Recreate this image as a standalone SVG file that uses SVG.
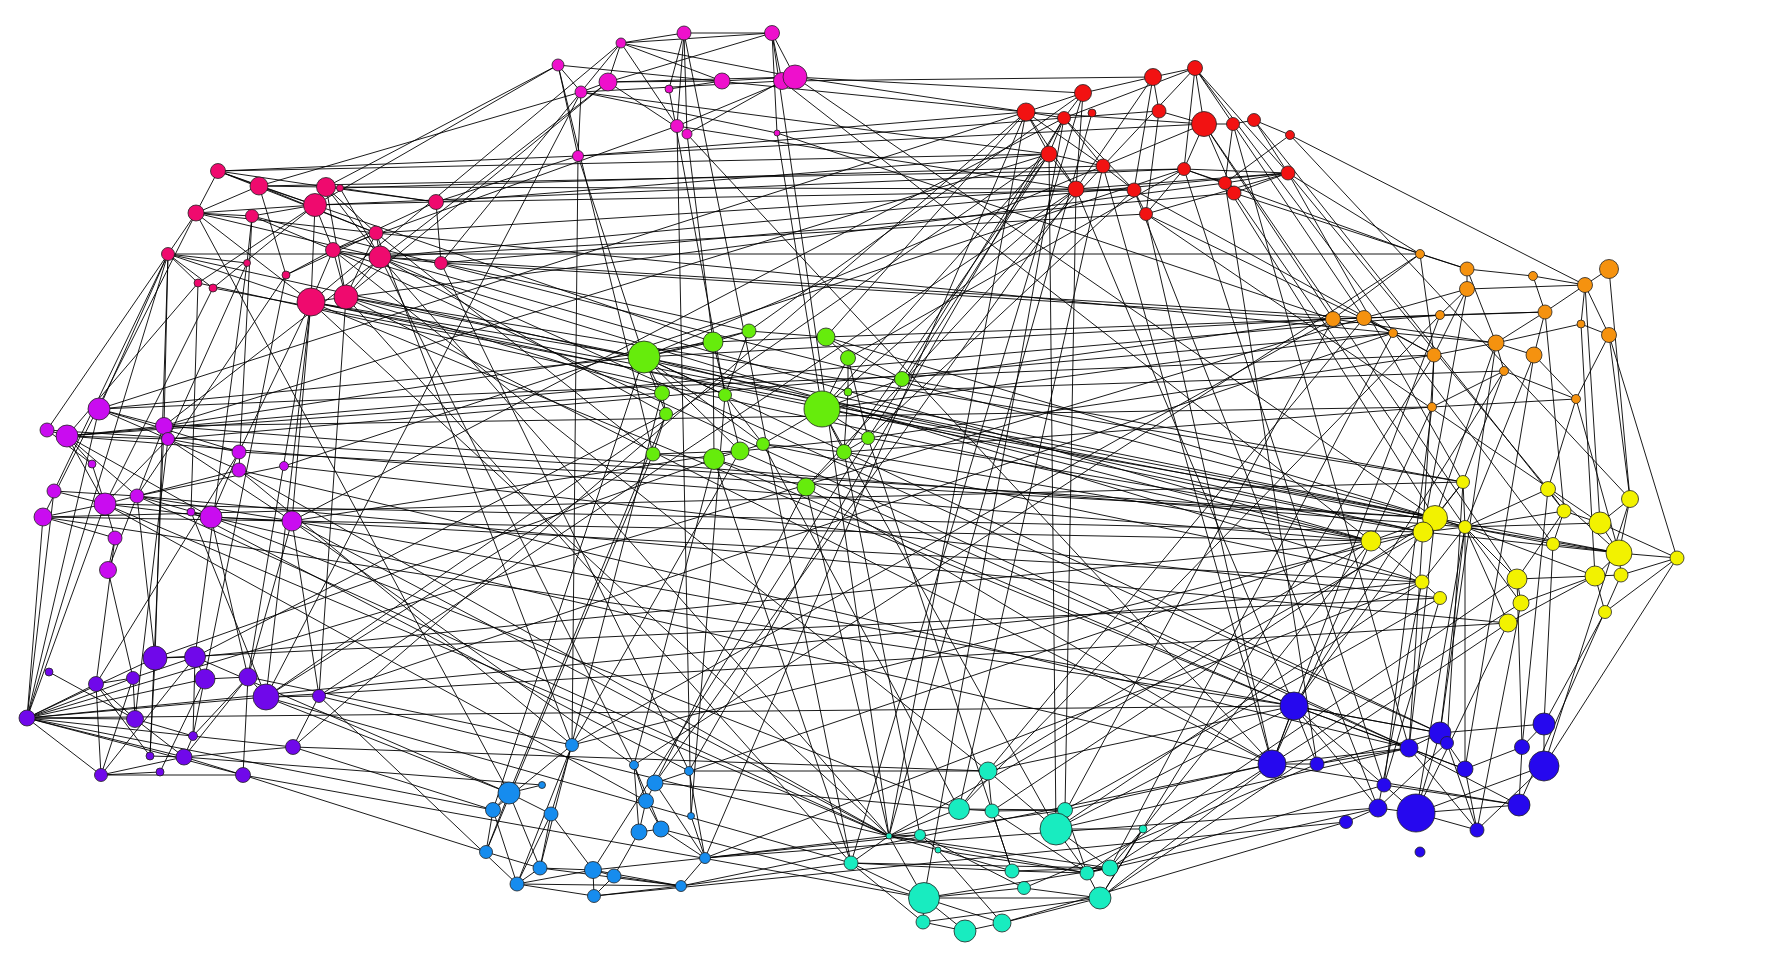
<svg xmlns="http://www.w3.org/2000/svg" width="1769" height="957" viewBox="0 0 1769 957">
<style>
.e path{fill:none;stroke:#000;stroke-width:0.9}
circle{stroke:#222;stroke-width:0.8}
.m{fill:#ee10cc}.r{fill:#f21212}.p{fill:#ef0a6e}.v{fill:#c90cf0}.u{fill:#7008ea}.s{fill:#168cee}.t{fill:#18ecc0}.b{fill:#2608ee}.y{fill:#f2f200}.o{fill:#f5920f}.g{fill:#66ec0c}
</style>
<rect width="1769" height="957" fill="#fff"/>
<g id="connectors" class="e">
<path d="M558 65L581 92M558 65L578 156M581 92L578 156M581 92L608 82M581 92L782 81M621 43L684 33M621 43L772 33M621 43L608 82M621 43L722 81M621 43L677 126M621 43L795 77M684 33L772 33M684 33L677 126M684 33L687 134M684 33L669 89M772 33L795 77M772 33L777 133M772 33L782 81M772 33L608 82M608 82L722 81M608 82L795 77M608 82L687 134M669 89L722 81M722 81L795 77M677 126L795 77M687 134L782 81M581 92L777 133"/>
<path d="M1026 112L1083 93M1026 112L1064 118M1026 112L1049 154M1026 112L1103 166M1026 112L1076 189M1083 93L1064 118M1083 93L1153 77M1083 93L1076 189M1064 118L1049 154M1064 118L1103 166M1064 118L1134 190M1064 118L1159 111M1153 77L1195 68M1153 77L1159 111M1153 77L1134 190M1153 77L1076 189M1159 111L1204 124M1159 111L1146 214M1195 68L1204 124M1195 68L1233 124M1195 68L1184 169M1195 68L1288 173M1195 68L1103 166M1195 68L1064 118M1204 124L1233 124M1204 124L1184 169M1204 124L1234 193M1204 124L1026 112M1233 124L1254 120M1233 124L1225 183M1254 120L1290 135M1254 120L1288 173M1290 135L1225 183M1184 169L1225 183M1184 169L1288 173M1225 183L1288 173M1234 193L1288 173M1049 154L1076 189M1049 154L1103 166M1103 166L1134 190M1076 189L1134 190M1134 190L1146 214M1146 214L1288 173M1146 214L1184 169M1076 189L1288 173"/>
<path d="M218 171L259 186M218 171L326 187M218 171L196 213M218 171L315 205M218 171L376 233M259 186L315 205M259 186L196 213M259 186L326 187M259 186L376 233M259 186L286 275M326 187L315 205M326 187L436 202M326 187L376 233M326 187L380 257M340 188L436 202M340 188L380 257M315 205L436 202M196 213L315 205M196 213L252 216M196 213L380 257M196 213L376 233M196 213L311 302M252 216L315 205M252 216L333 250M315 205L311 302M315 205L333 250M315 205L198 283M315 205L213 288M333 250L380 257M376 233L380 257M436 202L333 250M436 202L441 263M168 254L247 263M168 254L311 302M168 254L198 283M168 254L213 288M168 254L196 213M286 275L333 250M286 275L376 233M333 250L311 302M333 250L346 297M380 257L441 263M346 297L376 233M346 297L380 257M311 302L346 297M247 263L252 216M326 187L346 297"/>
<path d="M99 409L164 426M99 409L168 439M47 430L67 436M67 436L164 426M67 436L168 439M67 436L92 464M67 436L105 504M67 436L211 517M67 436L137 496M164 426L168 439M164 426L137 496M168 439L239 452M168 439L239 470M168 439L292 521M168 439L105 504M239 470L137 496M284 466L137 496M239 452L211 517M92 464L105 504M54 491L105 504M54 491L137 496M105 504L137 496M105 504L115 538M105 504L211 517M137 496L211 517M137 496L292 521M43 517L105 504M43 517L292 521M43 517L115 538M191 512L211 517M211 517L292 521M115 538L108 570M108 570L137 496M47 430L92 464M99 409L239 452"/>
<path d="M49 672L135 719M96 684L133 678M96 684L27 718M96 684L135 719M96 684L150 756M96 684L101 775M133 678L195 657M133 678L27 718M133 678L135 719M155 658L27 718M155 658L150 756M155 658L195 657M195 657L205 679M195 657L193 736M195 657L101 775M205 679L248 677M205 679L27 718M248 677L266 697M248 677L243 775M248 677L184 757M266 697L319 696M266 697L27 718M319 696L293 747M27 718L135 719M27 718L184 757M27 718L293 747M27 718L101 775M27 718L243 775M135 719L193 736M135 719L184 757M193 736L184 757M150 756L184 757M184 757L243 775M184 757L293 747M101 775L243 775M101 775L160 772M160 772L205 679M133 678L101 775M248 677L193 736M101 775L184 757"/>
<path d="M572 745L493 810M572 745L551 814M572 745L517 884M509 793L493 810M509 793L551 814M509 793L486 852M509 793L540 868M542 785L509 793M493 810L517 884M493 810L486 852M551 814L540 868M551 814L517 884M551 814L593 870M486 852L540 868M540 868L517 884M540 868L593 870M517 884L593 870M517 884L594 896M593 870L594 896M593 870L614 876M594 896L614 876M517 884L681 886M634 765L646 801M634 765L639 832M634 765L661 829M655 783L646 801M655 783L705 858M646 801L639 832M646 801L661 829M689 771L705 858M691 816L705 858M639 832L661 829M661 829L705 858M705 858L681 886M614 876L681 886M639 832L614 876M593 870L681 886M594 896L681 886M540 868L681 886"/>
<path d="M988 771L992 811M988 771L959 809M988 771L1056 829M959 809L992 811M959 809L889 836M959 809L1065 810M992 811L1065 810M992 811L1087 873M1065 810L1056 829M1056 829L1143 829M1056 829L1110 868M1056 829L1087 873M1143 829L1110 868M1143 829L1100 898M889 836L920 835M889 836L851 863M889 836L924 898M889 836L1012 871M889 836L1087 873M889 836L1110 868M889 836L1065 810M920 835L938 850M920 835L1024 888M938 850L1002 923M938 850L1087 873M851 863L1012 871M851 863L924 898M851 863L923 922M851 863L1110 868M1012 871L1110 868M1012 871L1087 873M1087 873L1110 868M1024 888L924 898M1024 888L1100 898M924 898L923 922M924 898L965 931M924 898L1002 923M924 898L1100 898M1100 898L1002 923M1100 898L1087 873M923 922L965 931M965 931L1002 923M1065 810L1087 873M992 811L1012 871M923 922L1100 898M924 898L1110 868"/>
<path d="M1294 706L1272 764M1294 706L1440 733M1294 706L1409 748M1294 706L1384 785M1294 706L1378 808M1294 706L1465 769M1294 706L1317 764M1272 764L1317 764M1272 764L1409 748M1317 764L1409 748M1317 764L1440 733M1272 764L1519 805M1440 733L1447 743M1440 733L1544 724M1440 733L1416 813M1440 733L1409 748M1447 743L1465 769M1447 743L1477 830M1409 748L1465 769M1409 748L1519 805M1544 724L1522 747M1544 724L1544 766M1522 747L1465 769M1522 747L1519 805M1544 766L1477 830M1465 769L1477 830M1384 785L1416 813M1384 785L1519 805M1378 808L1416 813M1416 813L1519 805M1416 813L1477 830M1378 808L1346 822M1447 743L1378 808M1416 813L1544 766M1409 748L1477 830"/>
<path d="M1463 482L1435 518M1463 482L1465 527M1463 482L1423 532M1548 489L1564 511M1548 489L1465 527M1630 499L1619 553M1630 499L1600 523M1435 518L1465 527M1435 518L1423 532M1435 518L1371 541M1465 527L1423 532M1465 527L1564 511M1465 527L1600 523M1465 527L1553 544M1465 527L1619 553M1465 527L1517 579M1465 527L1422 582M1465 527L1521 603M1465 527L1508 623M1465 527L1595 576M1564 511L1553 544M1564 511L1517 579M1564 511L1600 523M1600 523L1619 553M1600 523L1677 558M1619 553L1677 558M1619 553L1595 576M1619 553L1621 575M1553 544L1619 553M1517 579L1595 576M1595 576L1621 575M1595 576L1521 603M1595 576L1508 623M1595 576L1605 612M1621 575L1677 558M1677 558L1605 612M1422 582L1440 598M1517 579L1521 603M1371 541L1423 532M1371 541L1422 582M1423 532L1619 553M1435 518L1619 553M1548 489L1619 553"/>
<path d="M1420 254L1467 269M1420 254L1333 319M1420 254L1434 355M1467 269L1533 276M1467 269L1467 289M1467 269L1496 343M1533 276L1585 285M1533 276L1545 312M1609 269L1585 285M1585 285L1467 289M1585 285L1545 312M1585 285L1581 324M1585 285L1609 335M1467 289L1364 318M1467 289L1434 355M1467 289L1440 315M1333 319L1364 318M1364 318L1440 315M1364 318L1393 333M1364 318L1545 312M1440 315L1545 312M1545 312L1496 343M1581 324L1609 335M1581 324L1496 343M1609 335L1576 399M1393 333L1496 343M1496 343L1434 355M1496 343L1534 355M1496 343L1504 371M1434 355L1432 407M1534 355L1545 312M1534 355L1576 399M1504 371L1432 407M1504 371L1576 399M1393 333L1434 355M1333 319L1496 343M1432 407L1576 399"/>
<path d="M644 357L713 342M644 357L749 331M644 357L662 393M644 357L666 414M644 357L740 451M644 357L725 395M713 342L749 331M713 342L826 337M713 342L740 451M713 342L714 459M749 331L826 337M749 331L725 395M826 337L848 358M826 337L902 379M848 358L848 392M848 358L822 409M848 358L868 438M662 393L666 414M725 395L763 444M848 392L844 452M822 409L844 452M822 409L868 438M822 409L763 444M666 414L653 454M868 438L740 451M763 444L740 451M740 451L714 459M653 454L714 459M714 459L806 487M844 452L806 487M763 444L844 452M868 438L844 452M644 357L763 444M653 454L740 451M902 379L822 409"/>
<path d="M218 171L578 156M326 187L558 65M436 202L578 156M259 186L581 92M346 297L608 82M311 302L621 43M333 250L677 126M315 205L558 65M436 202L1049 154M436 202L1134 190M326 187L1076 189M315 205L1184 169M380 257L1146 214M441 263L1234 193M346 297L1225 183M376 233L1076 189M218 171L1049 154M340 188L1103 166M259 186L1184 169M380 257L1288 173M168 254L1420 254M441 263L1333 319M380 257L1364 318M376 233L1393 333M311 302L1435 518M311 302L1423 532M346 297L1435 518M346 297L1463 482M380 257L1371 541M333 250L1422 582M168 254L1423 532M198 283L1371 541M252 216L1435 518M213 288L1465 527"/>
<path d="M168 254L164 426M168 254L47 430M168 254L99 409M198 283L67 436M213 288L105 504M311 302L292 521M247 263L168 439M252 216L239 470M311 302L239 452M286 275L137 496M196 213L43 517M168 254L54 491M198 283L191 512M311 302L266 697M346 297L319 696M311 302L248 677M168 254L155 658M168 254L27 718M247 263L195 657M286 275L193 736M311 302L644 357M346 297L662 393M380 257L666 414M315 205L713 342M441 263L749 331M376 233L653 454M311 302L1294 706M346 297L1272 764M380 257L1440 733M333 250L1409 748M311 302L889 836M346 297L851 863M333 250L988 771M380 257L889 836M376 233L572 745M380 257L634 765M196 213L509 793M441 263L689 771"/>
<path d="M795 77L1083 93M795 77L1026 112M777 133L1026 112M578 156L1064 118M581 92L1049 154M782 81L1153 77M677 126L1076 189M578 156L1204 124M558 65L1026 112M578 156L644 357M687 134L713 342M777 133L822 409M669 89L725 395M558 65L653 454M677 126L691 816M578 156L572 745M684 33L851 863M772 33L889 836M777 133L1333 319M795 77L1435 518M608 82L164 426M581 92L266 697M687 134L1272 764M782 81L1371 541M621 43L441 263"/>
<path d="M1026 112L826 337M1064 118L902 379M1049 154L822 409M1076 189L822 409M1049 154L844 452M1204 124L644 357M1134 190L868 438M1184 169L848 358M1103 166L806 487M1083 93L749 331M1290 135L1585 285M1288 173L1420 254M1184 169L1420 254M1204 124L1333 319M1234 193L1467 269M1146 214L1393 333M1233 124L1364 318M1134 190L1434 355M1288 173L1463 482M1288 173L1548 489M1234 193L1465 527M1225 183L1435 518M1204 124L1517 579M1146 214L1600 523M1254 120L1564 511M1195 68L1553 544M1290 135L1630 499M1076 189L1294 706M1146 214L1272 764M1225 183L1317 764M1103 166L1272 764M1233 124L1409 748M1184 169L1384 785M1134 190L1378 808M1026 112L889 836M1049 154L1056 829M1083 93L851 863M1103 166L959 809M1092 113L889 836M1076 189L1065 810M1064 118L924 898M1064 118L689 771M1026 112L705 858M1076 189L655 783M1049 154L593 870M1049 154L266 697M1026 112L293 747M1064 118L292 521M1184 169L284 466M1076 189L319 696"/>
<path d="M1333 319L902 379M1393 333L822 409M1434 355L868 438M1432 407L844 452M1364 318L826 337M1333 319L644 357M1504 371L848 392M1432 407L164 426M1434 355L99 409M1393 333L168 439M1440 315L67 436M1609 269L1630 499M1609 335L1630 499M1534 355L1465 527M1576 399L1619 553M1504 371L1463 482M1432 407L1371 541M1496 343L1435 518M1609 335L1677 558M1585 285L1600 523M1545 312L1564 511M1576 399L1548 489M1581 324L1595 576M1467 289L1423 532M1496 343L1440 733M1504 371L1294 706M1440 315L1272 764M1434 355L1409 748M1432 407L1384 785M1534 355L1465 769M1333 319L1056 829M1393 333L1110 868M1364 318L988 771M1434 355L1100 898M1440 315L959 809M1333 319L572 745M1420 254L634 765M1364 318L27 718M1393 333L319 696"/>
<path d="M822 409L1435 518M868 438L1423 532M844 452L1371 541M763 444L1422 582M902 379L1463 482M826 337L1465 527M644 357L1371 541M67 436L1371 541M239 452L1435 518M105 504L1423 532M43 517L1463 482M211 517L1422 582M292 521L1371 541M164 426L1465 527M47 430L1435 518M284 466L1440 598M137 496L1508 623M27 718L1422 582M155 658L1440 598M266 697L1508 623M195 657L1371 541"/>
<path d="M1435 518L1409 748M1465 527L1440 733M1465 527L1416 813M1465 527L1465 769M1423 532L1294 706M1371 541L1272 764M1517 579L1522 747M1440 598L1384 785M1422 582L1378 808M1521 603L1477 830M1605 612L1544 724M1508 623L1416 813M1677 558L1544 766M1621 575L1519 805M1553 544L1544 724M1463 482L1447 743M1548 489L1522 747M1630 499L1544 766M1422 582L1056 829M1440 598L1065 810M1508 623L1100 898M1371 541L988 771M1521 603L1110 868M1371 541L1143 829M1517 579L1087 873M1435 518L992 811M1423 532L889 836M1371 541L655 783M1422 582L705 858M1423 532L572 745"/>
<path d="M1294 706L1056 829M1272 764L1065 810M1272 764L1100 898M1378 808L1110 868M1346 822L1002 923M1384 785L1087 873M1409 748L1056 829M1294 706L988 771M1317 764L1024 888M1272 764L681 886M1378 808L705 858M1346 822L594 896M43 517L1294 706M27 718L1294 706M292 521L1440 733M211 517L1272 764M239 470L1409 748M1294 706L714 459M1440 733L644 357M1409 748L740 451M1272 764L806 487"/>
<path d="M644 357L493 810M666 414L509 793M653 454L486 852M714 459L634 765M806 487L655 783M740 451L572 745M662 393L540 868M725 395L691 816M806 487L889 836M822 409L1056 829M844 452L920 835M714 459L851 863M763 444L959 809M868 438L1012 871M644 357L99 409M662 393L67 436M653 454L266 697M666 414L195 657M740 451L292 521M714 459L155 658M713 342L164 426"/>
<path d="M509 793L266 697M493 810L293 747M486 852L243 775M509 793L195 657M493 810L27 718M572 745L248 677M542 785L184 757M517 884L319 696M634 765L292 521M572 745L239 470M646 801L105 504M689 771L191 512M705 858L889 836M681 886L851 863M655 783L959 809M593 870L920 835M661 829L924 898M689 771L988 771M889 836L292 521M889 836L105 504M889 836L319 696M851 863L266 697M889 836L239 470M959 809L211 517M988 771L293 747M924 898L243 775M889 836L137 496"/>
<path d="M43 517L27 718M115 538L96 684M108 570L133 678M137 496L155 658M105 504L27 718M191 512L266 697M211 517L248 677M292 521L248 677M292 521L319 696M239 452L96 684M54 491L27 718M99 409L27 718M168 439L135 719M164 426L150 756M99 409L1026 112M164 426L1049 154"/>
</g>
<g id="nodes">
<g id="m1"><circle class="m" cx="558" cy="65" r="6"/></g>
<g id="m2"><circle class="m" cx="581" cy="92" r="6"/></g>
<g id="m3"><circle class="m" cx="578" cy="156" r="5.5"/></g>
<g id="m4"><circle class="m" cx="621" cy="43" r="5"/></g>
<g id="m5"><circle class="m" cx="684" cy="33" r="7"/></g>
<g id="m6"><circle class="m" cx="772" cy="33" r="7.5"/></g>
<g id="m7"><circle class="m" cx="608" cy="82" r="9"/></g>
<g id="m8"><circle class="m" cx="669" cy="89" r="4"/></g>
<g id="m9"><circle class="m" cx="722" cy="81" r="8"/></g>
<g id="m10"><circle class="m" cx="782" cy="81" r="8.5"/></g>
<g id="m11"><circle class="m" cx="795" cy="77" r="12"/></g>
<g id="m12"><circle class="m" cx="677" cy="126" r="6.5"/></g>
<g id="m13"><circle class="m" cx="687" cy="134" r="5"/></g>
<g id="m14"><circle class="m" cx="777" cy="133" r="3"/></g>
<g id="r1"><circle class="r" cx="1026" cy="112" r="9"/></g>
<g id="r2"><circle class="r" cx="1083" cy="93" r="8.5"/></g>
<g id="r3"><circle class="r" cx="1064" cy="118" r="6.5"/></g>
<g id="r4"><circle class="r" cx="1092" cy="113" r="4"/></g>
<g id="r5"><circle class="r" cx="1153" cy="77" r="8.5"/></g>
<g id="r6"><circle class="r" cx="1159" cy="111" r="7"/></g>
<g id="r7"><circle class="r" cx="1049" cy="154" r="8"/></g>
<g id="r8"><circle class="r" cx="1103" cy="166" r="7"/></g>
<g id="r9"><circle class="r" cx="1076" cy="189" r="8"/></g>
<g id="r10"><circle class="r" cx="1134" cy="190" r="7"/></g>
<g id="r11"><circle class="r" cx="1146" cy="214" r="6.5"/></g>
<g id="r12"><circle class="r" cx="1195" cy="68" r="7.5"/></g>
<g id="r13"><circle class="r" cx="1204" cy="124" r="12.5"/></g>
<g id="r14"><circle class="r" cx="1233" cy="124" r="6.5"/></g>
<g id="r15"><circle class="r" cx="1254" cy="120" r="6.5"/></g>
<g id="r16"><circle class="r" cx="1290" cy="135" r="4.5"/></g>
<g id="r17"><circle class="r" cx="1184" cy="169" r="6.5"/></g>
<g id="r18"><circle class="r" cx="1225" cy="183" r="6.5"/></g>
<g id="r19"><circle class="r" cx="1234" cy="193" r="7"/></g>
<g id="r20"><circle class="r" cx="1288" cy="173" r="7"/></g>
<g id="p1"><circle class="p" cx="218" cy="171" r="7.5"/></g>
<g id="p2"><circle class="p" cx="259" cy="186" r="9"/></g>
<g id="p3"><circle class="p" cx="326" cy="187" r="9.5"/></g>
<g id="p4"><circle class="p" cx="340" cy="188" r="3.5"/></g>
<g id="p5"><circle class="p" cx="315" cy="205" r="11.5"/></g>
<g id="p6"><circle class="p" cx="196" cy="213" r="8"/></g>
<g id="p7"><circle class="p" cx="252" cy="216" r="6.5"/></g>
<g id="p8"><circle class="p" cx="436" cy="202" r="7.5"/></g>
<g id="p9"><circle class="p" cx="376" cy="233" r="7"/></g>
<g id="p10"><circle class="p" cx="333" cy="250" r="7.5"/></g>
<g id="p11"><circle class="p" cx="380" cy="257" r="11"/></g>
<g id="p12"><circle class="p" cx="441" cy="263" r="6.5"/></g>
<g id="p13"><circle class="p" cx="168" cy="254" r="6.5"/></g>
<g id="p14"><circle class="p" cx="247" cy="263" r="3.5"/></g>
<g id="p15"><circle class="p" cx="286" cy="275" r="4"/></g>
<g id="p16"><circle class="p" cx="198" cy="283" r="4"/></g>
<g id="p17"><circle class="p" cx="213" cy="288" r="4"/></g>
<g id="p18"><circle class="p" cx="311" cy="302" r="14"/></g>
<g id="p19"><circle class="p" cx="346" cy="297" r="12"/></g>
<g id="v1"><circle class="v" cx="99" cy="409" r="11"/></g>
<g id="v2"><circle class="v" cx="47" cy="430" r="7"/></g>
<g id="v3"><circle class="v" cx="67" cy="436" r="11"/></g>
<g id="v4"><circle class="v" cx="164" cy="426" r="8.5"/></g>
<g id="v5"><circle class="v" cx="168" cy="439" r="6.5"/></g>
<g id="v6"><circle class="v" cx="239" cy="452" r="7"/></g>
<g id="v7"><circle class="v" cx="239" cy="470" r="7"/></g>
<g id="v8"><circle class="v" cx="284" cy="466" r="4.5"/></g>
<g id="v9"><circle class="v" cx="92" cy="464" r="4"/></g>
<g id="v10"><circle class="v" cx="54" cy="491" r="7"/></g>
<g id="v11"><circle class="v" cx="105" cy="504" r="11"/></g>
<g id="v12"><circle class="v" cx="137" cy="496" r="7"/></g>
<g id="v13"><circle class="v" cx="43" cy="517" r="9"/></g>
<g id="v14"><circle class="v" cx="191" cy="512" r="4"/></g>
<g id="v15"><circle class="v" cx="211" cy="517" r="11"/></g>
<g id="v16"><circle class="v" cx="292" cy="521" r="10"/></g>
<g id="v17"><circle class="v" cx="115" cy="538" r="7"/></g>
<g id="v18"><circle class="v" cx="108" cy="570" r="8.5"/></g>
<g id="u1"><circle class="u" cx="49" cy="672" r="4"/></g>
<g id="u2"><circle class="u" cx="96" cy="684" r="7.5"/></g>
<g id="u3"><circle class="u" cx="133" cy="678" r="6.5"/></g>
<g id="u4"><circle class="u" cx="155" cy="658" r="12"/></g>
<g id="u5"><circle class="u" cx="195" cy="657" r="10.5"/></g>
<g id="u6"><circle class="u" cx="205" cy="679" r="10"/></g>
<g id="u7"><circle class="u" cx="248" cy="677" r="9"/></g>
<g id="u8"><circle class="u" cx="266" cy="697" r="13"/></g>
<g id="u9"><circle class="u" cx="319" cy="696" r="6.5"/></g>
<g id="u10"><circle class="u" cx="27" cy="718" r="8"/></g>
<g id="u11"><circle class="u" cx="135" cy="719" r="8.5"/></g>
<g id="u12"><circle class="u" cx="193" cy="736" r="4.5"/></g>
<g id="u13"><circle class="u" cx="150" cy="756" r="4"/></g>
<g id="u14"><circle class="u" cx="184" cy="757" r="8"/></g>
<g id="u15"><circle class="u" cx="293" cy="747" r="7.5"/></g>
<g id="u16"><circle class="u" cx="101" cy="775" r="6.5"/></g>
<g id="u17"><circle class="u" cx="160" cy="772" r="4"/></g>
<g id="u18"><circle class="u" cx="243" cy="775" r="7.5"/></g>
<g id="s1"><circle class="s" cx="572" cy="745" r="6.5"/></g>
<g id="s2"><circle class="s" cx="509" cy="793" r="11"/></g>
<g id="s3"><circle class="s" cx="542" cy="785" r="3.5"/></g>
<g id="s4"><circle class="s" cx="493" cy="810" r="7.5"/></g>
<g id="s5"><circle class="s" cx="551" cy="814" r="7"/></g>
<g id="s6"><circle class="s" cx="486" cy="852" r="6.5"/></g>
<g id="s7"><circle class="s" cx="540" cy="868" r="7"/></g>
<g id="s8"><circle class="s" cx="517" cy="884" r="7"/></g>
<g id="s9"><circle class="s" cx="593" cy="870" r="8.5"/></g>
<g id="s10"><circle class="s" cx="594" cy="896" r="6.5"/></g>
<g id="s11"><circle class="s" cx="634" cy="765" r="4.5"/></g>
<g id="s12"><circle class="s" cx="655" cy="783" r="8"/></g>
<g id="s13"><circle class="s" cx="646" cy="801" r="7.5"/></g>
<g id="s14"><circle class="s" cx="689" cy="771" r="4.5"/></g>
<g id="s15"><circle class="s" cx="691" cy="816" r="3.5"/></g>
<g id="s16"><circle class="s" cx="639" cy="832" r="8"/></g>
<g id="s17"><circle class="s" cx="661" cy="829" r="8"/></g>
<g id="s18"><circle class="s" cx="705" cy="858" r="5.5"/></g>
<g id="s19"><circle class="s" cx="614" cy="876" r="7"/></g>
<g id="s20"><circle class="s" cx="681" cy="886" r="5.5"/></g>
<g id="t1"><circle class="t" cx="988" cy="771" r="9"/></g>
<g id="t2"><circle class="t" cx="959" cy="809" r="10.5"/></g>
<g id="t3"><circle class="t" cx="992" cy="811" r="7"/></g>
<g id="t4"><circle class="t" cx="1065" cy="810" r="7.5"/></g>
<g id="t5"><circle class="t" cx="1056" cy="829" r="16"/></g>
<g id="t6"><circle class="t" cx="1143" cy="829" r="4"/></g>
<g id="t7"><circle class="t" cx="889" cy="836" r="3"/></g>
<g id="t8"><circle class="t" cx="920" cy="835" r="5.5"/></g>
<g id="t9"><circle class="t" cx="938" cy="850" r="3"/></g>
<g id="t10"><circle class="t" cx="851" cy="863" r="7"/></g>
<g id="t11"><circle class="t" cx="1012" cy="871" r="7"/></g>
<g id="t12"><circle class="t" cx="1087" cy="873" r="7"/></g>
<g id="t13"><circle class="t" cx="1110" cy="868" r="8"/></g>
<g id="t14"><circle class="t" cx="1024" cy="888" r="6.5"/></g>
<g id="t15"><circle class="t" cx="924" cy="898" r="15.5"/></g>
<g id="t16"><circle class="t" cx="1100" cy="898" r="11"/></g>
<g id="t17"><circle class="t" cx="923" cy="922" r="7"/></g>
<g id="t18"><circle class="t" cx="965" cy="931" r="11"/></g>
<g id="t19"><circle class="t" cx="1002" cy="923" r="9"/></g>
<g id="b1"><circle class="b" cx="1294" cy="706" r="14"/></g>
<g id="b2"><circle class="b" cx="1272" cy="764" r="14"/></g>
<g id="b3"><circle class="b" cx="1317" cy="764" r="7"/></g>
<g id="b4"><circle class="b" cx="1440" cy="733" r="11"/></g>
<g id="b5"><circle class="b" cx="1447" cy="743" r="6.5"/></g>
<g id="b6"><circle class="b" cx="1409" cy="748" r="9"/></g>
<g id="b7"><circle class="b" cx="1544" cy="724" r="11"/></g>
<g id="b8"><circle class="b" cx="1522" cy="747" r="7.5"/></g>
<g id="b9"><circle class="b" cx="1544" cy="766" r="15"/></g>
<g id="b10"><circle class="b" cx="1465" cy="769" r="8"/></g>
<g id="b11"><circle class="b" cx="1384" cy="785" r="7"/></g>
<g id="b12"><circle class="b" cx="1378" cy="808" r="9"/></g>
<g id="b13"><circle class="b" cx="1416" cy="813" r="19"/></g>
<g id="b14"><circle class="b" cx="1519" cy="805" r="11"/></g>
<g id="b15"><circle class="b" cx="1346" cy="822" r="6.5"/></g>
<g id="b16"><circle class="b" cx="1477" cy="830" r="7"/></g>
<g id="b17"><circle class="b" cx="1420" cy="852" r="5"/></g>
<g id="y1"><circle class="y" cx="1463" cy="482" r="6.5"/></g>
<g id="y2"><circle class="y" cx="1548" cy="489" r="7.5"/></g>
<g id="y3"><circle class="y" cx="1630" cy="499" r="8.5"/></g>
<g id="y4"><circle class="y" cx="1435" cy="518" r="12.5"/></g>
<g id="y5"><circle class="y" cx="1465" cy="527" r="6.5"/></g>
<g id="y6"><circle class="y" cx="1423" cy="532" r="10"/></g>
<g id="y7"><circle class="y" cx="1564" cy="511" r="7"/></g>
<g id="y8"><circle class="y" cx="1600" cy="523" r="11"/></g>
<g id="y9"><circle class="y" cx="1371" cy="541" r="10"/></g>
<g id="y10"><circle class="y" cx="1553" cy="544" r="6.5"/></g>
<g id="y11"><circle class="y" cx="1619" cy="553" r="13"/></g>
<g id="y12"><circle class="y" cx="1677" cy="558" r="7"/></g>
<g id="y13"><circle class="y" cx="1422" cy="582" r="7"/></g>
<g id="y14"><circle class="y" cx="1517" cy="579" r="10"/></g>
<g id="y15"><circle class="y" cx="1595" cy="576" r="10"/></g>
<g id="y16"><circle class="y" cx="1621" cy="575" r="7"/></g>
<g id="y17"><circle class="y" cx="1440" cy="598" r="6.5"/></g>
<g id="y18"><circle class="y" cx="1521" cy="603" r="8"/></g>
<g id="y19"><circle class="y" cx="1605" cy="612" r="6.5"/></g>
<g id="y20"><circle class="y" cx="1508" cy="623" r="9"/></g>
<g id="o1"><circle class="o" cx="1420" cy="254" r="4.5"/></g>
<g id="o2"><circle class="o" cx="1467" cy="269" r="7"/></g>
<g id="o3"><circle class="o" cx="1533" cy="276" r="4.5"/></g>
<g id="o4"><circle class="o" cx="1609" cy="269" r="9.5"/></g>
<g id="o5"><circle class="o" cx="1585" cy="285" r="7.5"/></g>
<g id="o6"><circle class="o" cx="1467" cy="289" r="7.5"/></g>
<g id="o7"><circle class="o" cx="1333" cy="319" r="7.5"/></g>
<g id="o8"><circle class="o" cx="1364" cy="318" r="7.5"/></g>
<g id="o9"><circle class="o" cx="1440" cy="315" r="4.5"/></g>
<g id="o10"><circle class="o" cx="1545" cy="312" r="7"/></g>
<g id="o11"><circle class="o" cx="1581" cy="324" r="4"/></g>
<g id="o12"><circle class="o" cx="1609" cy="335" r="7.5"/></g>
<g id="o13"><circle class="o" cx="1393" cy="333" r="4.5"/></g>
<g id="o14"><circle class="o" cx="1496" cy="343" r="8"/></g>
<g id="o15"><circle class="o" cx="1434" cy="355" r="7"/></g>
<g id="o16"><circle class="o" cx="1534" cy="355" r="8"/></g>
<g id="o17"><circle class="o" cx="1504" cy="371" r="4.5"/></g>
<g id="o18"><circle class="o" cx="1432" cy="407" r="4.5"/></g>
<g id="o19"><circle class="o" cx="1576" cy="399" r="4.5"/></g>
<g id="g1"><circle class="g" cx="644" cy="357" r="16"/></g>
<g id="g2"><circle class="g" cx="713" cy="342" r="10"/></g>
<g id="g3"><circle class="g" cx="749" cy="331" r="7"/></g>
<g id="g4"><circle class="g" cx="826" cy="337" r="9"/></g>
<g id="g5"><circle class="g" cx="848" cy="358" r="7.5"/></g>
<g id="g6"><circle class="g" cx="902" cy="379" r="7.5"/></g>
<g id="g7"><circle class="g" cx="662" cy="393" r="7.5"/></g>
<g id="g8"><circle class="g" cx="725" cy="395" r="6.5"/></g>
<g id="g9"><circle class="g" cx="848" cy="392" r="4"/></g>
<g id="g10"><circle class="g" cx="822" cy="409" r="18"/></g>
<g id="g11"><circle class="g" cx="666" cy="414" r="6.5"/></g>
<g id="g12"><circle class="g" cx="868" cy="438" r="6.5"/></g>
<g id="g13"><circle class="g" cx="763" cy="444" r="6.5"/></g>
<g id="g14"><circle class="g" cx="740" cy="451" r="9"/></g>
<g id="g15"><circle class="g" cx="653" cy="454" r="7"/></g>
<g id="g16"><circle class="g" cx="714" cy="459" r="10.5"/></g>
<g id="g17"><circle class="g" cx="844" cy="452" r="7.5"/></g>
<g id="g18"><circle class="g" cx="806" cy="487" r="9"/></g>
</g>
</svg>
